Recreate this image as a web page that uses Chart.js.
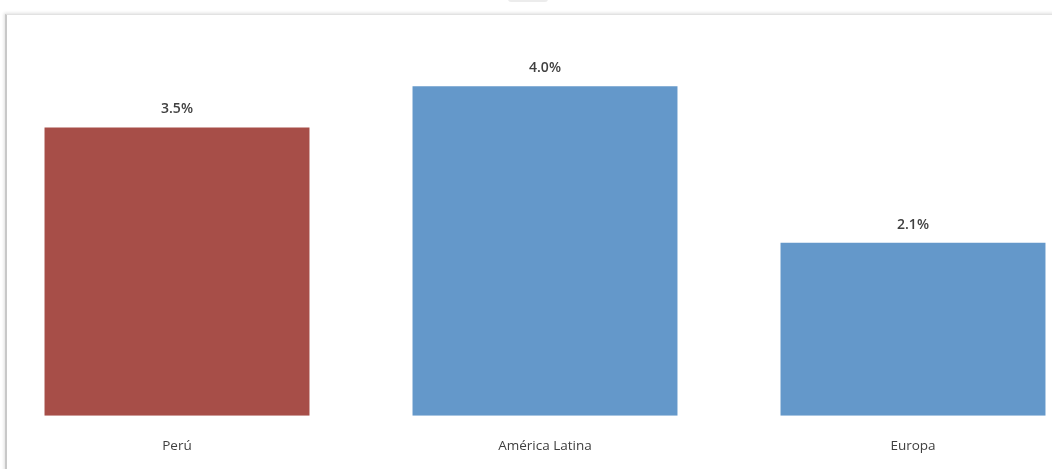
<!DOCTYPE html>
<html>
<head>
<meta charset="utf-8">
<script src="https://cdn.jsdelivr.net/npm/chart.js@4/dist/chart.umd.min.js"></script>
<style>
    html, body { margin: 0; padding: 0; background: #fff; overflow: hidden; }
    body { width: 1052px; height: 469px; position: relative; }
    .frame {
        position: absolute; left: 5px; top: 14px; width: 1100px; height: 480px;
        border-left: 2px solid #c8c8c8; border-top: 1px solid #e2e2e2;
        box-shadow: -1px -1px 3px rgba(0, 0, 0, 0.12);
    }
    .tab {
        position: absolute; left: 508px; top: -4px; width: 40px; height: 6px;
        border-radius: 4px; background: #ececec;
    }
    .wrap { position: absolute; left: -7px; top: 0; width: 1104px; height: 469px; }
</style>
</head>
<body>
<div class="tab"></div>
<div class="frame"></div>
<div class="wrap"><canvas id="growthChart"></canvas></div>
<script>
const regions = ["Perú", "América Latina", "Europa"];
const growth = [3.5, 4.0, 2.1];
const barColors = ["#a74e48", "#6498ca", "#6498ca"];

// values written above each bar
const valueLabels = {
    id: "valueLabels",
    afterDatasetsDraw(chart) {
        const ctx = chart.ctx;
        const meta = chart.getDatasetMeta(0);
        ctx.save();
        ctx.font = "600 14px 'Open Sans', sans-serif";
        ctx.fillStyle = "#404040";
        ctx.textAlign = "center";
        ctx.textBaseline = "middle";
        meta.data.forEach((bar, i) => {
            ctx.fillText(growth[i].toFixed(1) + "%", bar.x, bar.y - 18);
        });
        ctx.restore();
    }
};

const ctx = document.getElementById("growthChart").getContext("2d");
new Chart(ctx, {
    type: "bar",
    data: {
        labels: regions,
        datasets: [{
            data: growth,
            backgroundColor: barColors,
            borderWidth: 0,
            barPercentage: 0.72,
            categoryPercentage: 1
        }]
    },
    options: {
        responsive: true,
        maintainAspectRatio: false,
        animation: false,
        layout: { padding: { top: 45, left: 0, right: 0, bottom: 1 } },
        plugins: {
            legend: { display: false },
            tooltip: { enabled: false }
        },
        scales: {
            y: { display: false, min: 0, max: 4.5 },
            x: {
                grid: { display: false },
                border: { display: false },
                ticks: {
                    color: "#404040",
                    padding: 14,
                    font: { family: "'Open Sans', sans-serif", size: 13.5 }
                }
            }
        }
    },
    plugins: [valueLabels]
});
</script>
</body>
</html>
